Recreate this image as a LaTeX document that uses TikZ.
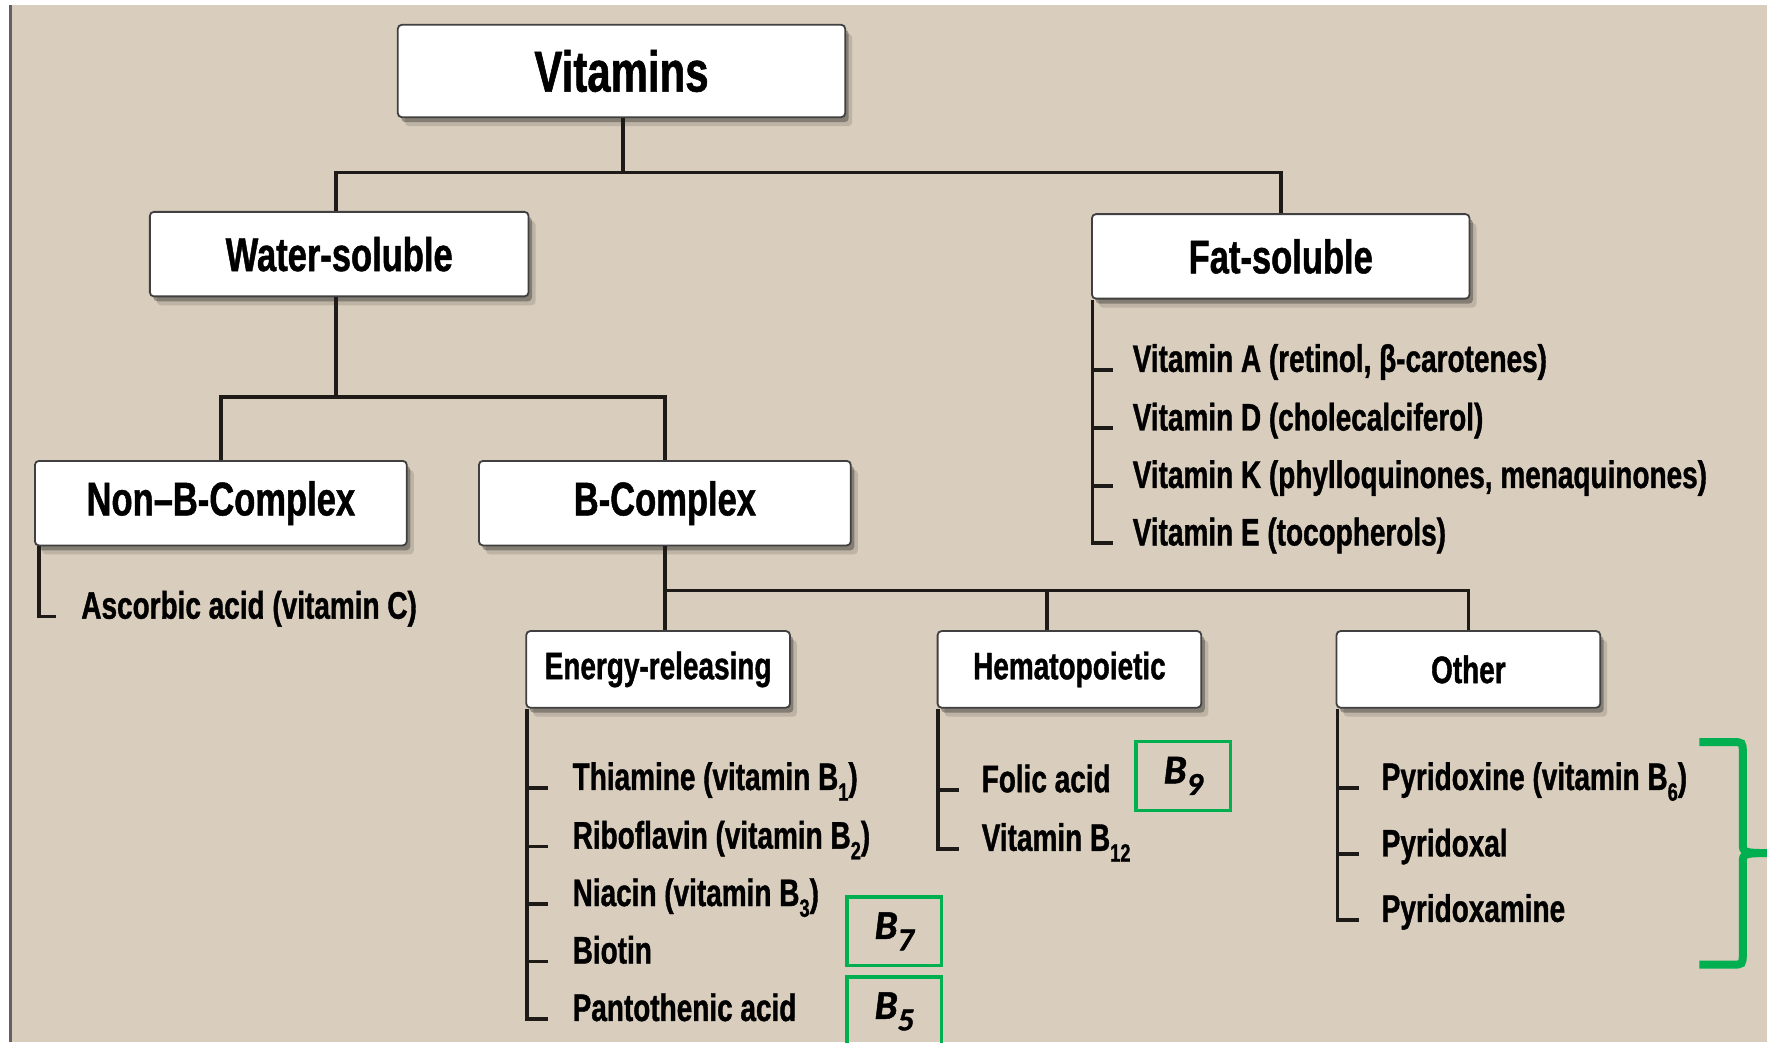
\documentclass[tikz,border=0pt]{standalone}
\usepackage{fontspec}
\newfontfamily\hfont{Liberation Sans}[FakeStretch=0.73, BoldFeatures={FakeBold=1}]
\newfontfamily\carl{Carlito}[BoldItalicFeatures={FakeBold=1.2}]
\usetikzlibrary{shadows}
\definecolor{bg}{HTML}{D9CDBD}
\definecolor{gr}{HTML}{00B050}
\definecolor{ln}{HTML}{1E1A18}
\newcommand\szA{\fontsize{57.5}{60}\selectfont}
\newcommand\szB{\fontsize{47.3}{50}\selectfont}
\newcommand\szC{\fontsize{38.3}{40}\selectfont}
\newcommand\lsub[1]{\raisebox{-0.28em}{\fontsize{25}{25}\selectfont #1}}
\newcommand\gsub[1]{\raisebox{-0.28em}{\fontsize{32}{33}\selectfont #1}}
\begin{document}
\begin{tikzpicture}[x=1.127pt,y=-1.127pt,
  box/.style={draw=black!75, line width=1.8pt, fill=white, rounded corners=4pt,
    general shadow={shadow xshift=7pt, shadow yshift=-9pt, opacity=0.12, fill=black},
    drop shadow={shadow xshift=3.5pt, shadow yshift=-5pt, opacity=0.3, fill=black},
    inner sep=0pt},
  boxA/.style={box, minimum width=397*1.127pt, minimum height=82*1.127pt, font=\hfont\bfseries\szA},
  boxB/.style={box, minimum width=333*1.127pt, minimum height=75*1.127pt, font=\hfont\bfseries\szB},
  boxC/.style={box, minimum width=234*1.127pt, minimum height=68*1.127pt, font=\hfont\bfseries\szC},
  item/.style={font=\hfont\bfseries\szC, inner sep=0pt, anchor=base west},
  conn/.style={draw=ln, line width=3.7pt},
  gbox/.style={draw=gr, line width=3.4pt, minimum width=84*1.127pt, minimum height=61*1.127pt,
    inner sep=0pt, font=\carl\bfseries\itshape\fontsize{41}{43}\selectfont},
  brace/.style={draw=gr, line width=8pt}
]
\clip (0,0) rectangle (1568,925);
\fill[bg] (0,0) rectangle (1568,925);
\fill[white] (0,0) rectangle (1568,4.4);
\fill[white] (0,0) rectangle (8,925);
\fill[black!62] (8,4.4) rectangle (10.7,925);

% boxes
\node[boxA] (vit) at (551.5,63) {Vitamins};
\node[boxB, minimum width=336*1.127pt] (ws) at (301,225.5) {Water-soluble};
\node[boxB, minimum width=335*1.127pt] (fs) at (1136.5,227.5) {Fat-soluble};
\node[boxB, minimum width=330*1.127pt] (nb) at (196,446.5) {Non–B-Complex};
\node[boxB, minimum width=330*1.127pt] (bc) at (590,446.5) {B-Complex};
\node[boxC] (er) at (584,594) {Energy-releasing};
\node[boxC] (hm) at (949,594) {Hematopoietic};
\node[boxC] (ot) at (1303,594) {Other};

% tree connectors
\coordinate (j1) at (553,153);
\coordinate (j2) at (298,352);
\coordinate (j3) at (590,524);
\draw[conn] (vit.south -| j1) -- (j1);
\draw[conn] (ws.north -| j2) |- (j1) -| (fs.north);
\draw[conn] (ws.south -| j2) -- (j2);
\draw[conn] (nb.north) |- (j2) -| (bc.north);
\draw[conn] (bc.south) -- (bc.south |- er.north);
\draw[conn] (j3) -| (ot.north);
\draw[conn] ([xshift=-22.5pt]hm.north) |- (j3);

% fat-soluble list
\node[item] (fa) at (1005,330) {Vitamin A (retinol, β-carotenes)};
\node[item] (fd) at (1005,382) {Vitamin D (cholecalciferol)};
\node[item] (fk) at (1005,433) {Vitamin K (phylloquinones, menaquinones)};
\node[item] (fe) at (1005,484) {Vitamin E (tocopherols)};
\coordinate (fsl) at ([xshift=1.5pt]fs.south west);
\draw[conn] (fsl) |- ([xshift=-20pt]fe.mid west);
\foreach \n in {fa,fd,fk} \draw[conn] (fsl |- \n.mid west) -- ([xshift=-20pt]\n.mid west);

% non-B list
\node[item] (asc) at (72,549) {Ascorbic acid (vitamin C)};
\coordinate (nbl) at ([xshift=5pt]nb.south west);
\draw[conn] (nbl) |- ([xshift=-25pt]asc.mid west);

% energy-releasing list
\node[item] (e1) at (508,701) {Thiamine (vitamin B\lsub{1})};
\node[item] (e2) at (508,753) {Riboflavin (vitamin B\lsub{2})};
\node[item] (e3) at (508,804) {Niacin (vitamin B\lsub{3})};
\node[item] (e4) at (508,855) {Biotin};
\node[item] (e5) at (508,906) {Pantothenic acid};
\coordinate (erl) at ([xshift=1.5pt]er.south west);
\draw[conn] (erl) |- ([xshift=-24pt]e5.mid west);
\foreach \n in {e1,e2,e3,e4} \draw[conn] (erl |- \n.mid west) -- ([xshift=-24pt]\n.mid west);

% hematopoietic list
\node[item] (h1) at (871,703) {Folic acid};
\node[item] (h2) at (871,755) {Vitamin B\lsub{12}};
\coordinate (hml) at ([xshift=1.5pt]hm.south west);
\draw[conn] (hml) |- ([xshift=-23pt]h2.mid west);
\draw[conn] (hml |- h1.mid west) -- ([xshift=-23pt]h1.mid west);

% other list
\node[item] (o1) at (1226,701) {Pyridoxine (vitamin B\lsub{6})};
\node[item] (o2) at (1226,760) {Pyridoxal};
\node[item] (o3) at (1226,818) {Pyridoxamine};
\coordinate (otl) at ([xshift=2pt]ot.south west);
\draw[conn] (otl) |- ([xshift=-23pt]o3.mid west);
\foreach \n in {o1,o2} \draw[conn] (otl |- \n.mid west) -- ([xshift=-23pt]\n.mid west);

% green annotations
\node[gbox] (b9) at (1050,688.5) {B\gsub{9}};
\node[gbox] (b7) at (793.5,826.5) {B\gsub{7}};
\node[gbox] (b5) at (793.5,897.5) {B\gsub{5}};
\draw[brace] (1508,658.5) -- (1537,658.5) .. controls (1546.5,658.5) .. (1546.5,668)
  -- (1546.5,748) .. controls (1546.5,757) .. (1575,757)
  .. controls (1546.5,757) .. (1546.5,766) -- (1546.5,846)
  .. controls (1546.5,856) .. (1537,856) -- (1508,856);
\end{tikzpicture}
\end{document}
